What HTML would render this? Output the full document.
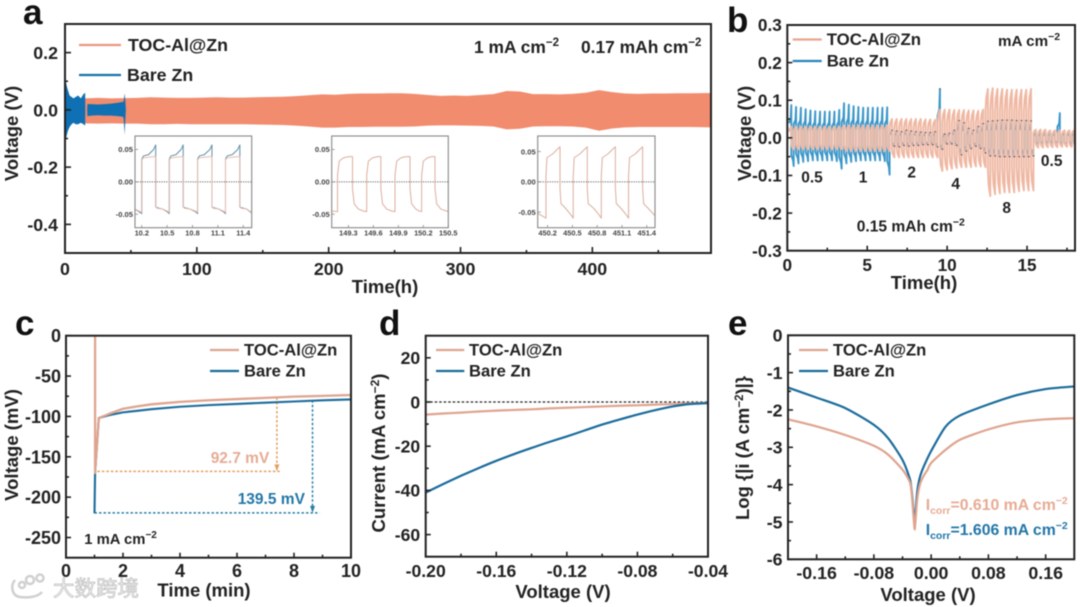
<!DOCTYPE html>
<html><head><meta charset="utf-8">
<style>
html,body{margin:0;padding:0;background:#fff}
svg{display:block;filter:blur(.5px)}
text{font-family:"Liberation Sans","Noto Sans CJK SC",sans-serif;font-weight:bold;fill:#222}
.pl{font-size:35px;fill:#111}
.leg{font-size:17px}
.ttl{font-size:18.5px}
.ann{font-size:15.5px}
</style></head>
<body>
<svg id="fig" width="1080" height="607" viewBox="0 0 1080 607" xmlns="http://www.w3.org/2000/svg">
<defs>
<clipPath id="b-clip"><rect x="787.3" y="25" width="287.7" height="225.7"/></clipPath>
</defs>
<rect width="1080" height="607" fill="#fff"/>

<g id="panel-a">
<text class="pl" x="23" y="24">a</text>
<text class="ttl" transform="translate(18,133.5) rotate(-90)" text-anchor="middle">Voltage (V)</text>
<text class="ttl" x="385" y="293" text-anchor="middle">Time(h)</text>
<line x1="79" x2="121" y1="45" y2="45" stroke="#e89a80" stroke-width="2.2"/>
<text x="128" y="51" font-size="17.8">TOC-Al@Zn</text>
<line x1="79" x2="121" y1="75" y2="75" stroke="#1a72ad" stroke-width="2.2"/>
<text x="127" y="81" font-size="17.8">Bare Zn</text>
<text x="474" y="53" font-size="17.4">1 mA cm<tspan dy="-7" font-size="11.5">−2</tspan></text>
<text x="581" y="53" font-size="17.4">0.17 mAh cm<tspan dy="-7" font-size="11.5">−2</tspan></text>
</g>

<g id="panel-b">
<text class="pl" x="727" y="32">b</text>
<text class="ttl" transform="translate(751,133.5) rotate(-90)" text-anchor="middle">Voltage (V)</text>
<text class="ttl" x="924" y="289" text-anchor="middle">Time(h)</text>
</g>

<g id="panel-c">
<text class="pl" x="15" y="335">c</text>
<text class="ttl" transform="translate(18,445) rotate(-90)" text-anchor="middle" font-size="19">Voltage (mV)</text>
<text class="ttl" x="204" y="596.5" text-anchor="middle" font-size="18.8">Time (min)</text>
</g>

<g id="panel-d">
<text class="pl" x="379" y="335">d</text>
<text class="ttl" transform="translate(385,453) rotate(-90)" text-anchor="middle">Current (mA cm<tspan dy="-6" font-size="12">−2</tspan><tspan dy="6">)</tspan></text>
<text class="ttl" x="563" y="598" text-anchor="middle">Voltage (V)</text>
</g>

<g id="panel-e">
<text class="pl" x="728" y="335">e</text>
<text class="ttl" transform="translate(749,448) rotate(-90)" text-anchor="middle" font-size="17.5">Log {|i (A cm<tspan dy="-6" font-size="11.5">−2</tspan><tspan dy="6">)|}</tspan></text>
<text class="ttl" x="928" y="601" text-anchor="middle">Voltage (V)</text>
</g>

<g id="watermark">
<g fill="none" stroke="#d0d0d0" stroke-width="2.5">
<path d="M15 580 C10 586 12 596 20 597 C28 598 38 597 42 592"/>
<circle cx="30" cy="580" r="4"/><circle cx="40" cy="578" r="3.5"/><circle cx="22" cy="585" r="3"/>
</g>
<text x="53" y="596" font-size="21.5" style="fill:#f3f3f3;stroke:#bdbdbd;stroke-width:.7;font-weight:normal">大数跨境</text>
</g>
</svg>

<script>
/* ---------- panel a data ---------- */
const aTocTime=[15,25,35,45,55,65,75,85,95,105,115,125,135,145,155,165,175,185,195,205,215,225,235,245,255,265,275,285,295,305,315,325,335,345,355,365,375,385,395,405,415,425,435,445,455,465,475,490];
const aTocUpper=[.04,.042,.04,.041,.042,.044,.043,.042,.042,.043,.044,.043,.043,.044,.045,.046,.048,.051,.054,.053,.056,.057,.057,.058,.058,.056,.052,.049,.05,.049,.052,.055,.066,.064,.055,.055,.054,.056,.06,.069,.062,.057,.056,.057,.057,.058,.058,.059];
const aTocLower=[-.047,-.048,-.047,-.048,-.048,-.05,-.05,-.049,-.05,-.05,-.05,-.05,-.05,-.051,-.052,-.053,-.055,-.058,-.062,-.062,-.06,-.06,-.059,-.059,-.059,-.058,-.055,-.054,-.054,-.055,-.056,-.058,-.068,-.066,-.058,-.057,-.057,-.058,-.062,-.073,-.065,-.061,-.06,-.06,-.06,-.06,-.06,-.061];
const aBareTime=[0,.4,1,1.8,2.5,3.5,5,6.5,8,10,12,14,15.3,15.4,16.8,17,20,25,30,35,40,44,44.5,45.2,45.8,46.2];
const aBareUpper=[.02,.105,.09,.075,.065,.05,.045,.04,.045,.05,.04,.055,.06,0,0,.02,.02,.019,.02,.022,.025,.028,.03,.058,.03,0];
const aBareLower=[-.02,-.105,-.095,-.08,-.07,-.06,-.05,-.045,-.05,-.05,-.045,-.05,-.055,0,0,-.022,-.02,-.019,-.02,-.02,-.022,-.024,-.03,-.088,-.03,0];
const aXTicks=[0,100,200,300,400];
const aXLabels=['0','100','200','300','400'];
const aXMinor=[50,150,250,350,450];
const aYTicks=[.2,0,-.2,-.4];
const aYLabels=['0.2','0.0','-0.2','-0.4'];
const aYMinor=[.1,-.1,-.3];

/* ---------- panel a inset data ---------- */
const inset1Time=[10.12,10.2,10.2,10.22,10.28,10.34,10.365,10.365,10.385,10.445,10.5,10.525,10.525,10.545,10.605,10.665,10.69,10.69,10.71,10.77,10.835,10.86,10.86,10.88,10.94,11.005,11.03,11.03,11.05,11.11,11.165,11.19,11.19,11.21,11.27,11.335,11.36,11.36,11.38,11.44,11.5];
const inset1Toc=[-.042,-.047,.034,.037,.038,.039,.039,-.039,-.041,-.042,-.045,-.047,.034,.037,.038,.039,.039,-.039,-.041,-.042,-.045,-.047,.034,.037,.038,.039,.039,-.039,-.041,-.042,-.045,-.047,.034,.037,.038,.039,.039,-.039,-.041,-.042,-.047];
const inset1Bare=[-.042,-.049,.035,.04,.042,.05,.057,-.039,-.04,-.042,-.046,-.049,.035,.04,.042,.05,.057,-.039,-.04,-.042,-.046,-.049,.035,.04,.042,.05,.057,-.039,-.04,-.042,-.046,-.049,.035,.04,.042,.05,.057,-.039,-.04,-.042,-.048];
const inset1Ticks=[10.2,10.5,10.8,11.1,11.4];
const inset1Labels=['10.2','10.5','10.8','11.1','11.4'];
const inset2Time=[149.1,149.17,149.17,149.19,149.24,149.3,149.35,149.35,149.37,149.42,149.48,149.52,149.52,149.54,149.59,149.65,149.69,149.69,149.71,149.76,149.82,149.86,149.86,149.88,149.93,149.99,150.04,150.04,150.06,150.11,150.15,150.18,150.18,150.2,150.25,150.3,150.34,150.34,150.36,150.41,150.5];
const inset2Toc=[-.045,-.046,.01,.032,.037,.039,.039,-.01,-.034,-.042,-.045,-.046,.01,.032,.037,.039,.039,-.01,-.034,-.042,-.045,-.046,.01,.032,.037,.039,.039,-.01,-.034,-.042,-.045,-.046,.01,.032,.037,.039,.039,-.01,-.034,-.042,-.046];
const inset2Ticks=[149.3,149.6,149.9,150.2,150.5];
const inset2Labels=['149.3','149.6','149.9','150.2','150.5'];
const inset3Time=[450.08,450.18,450.18,450.192,450.26,450.32,450.35,450.35,450.362,450.42,450.48,450.51,450.51,450.522,450.59,450.65,450.68,450.68,450.692,450.76,450.82,450.85,450.85,450.862,450.93,450.99,451.02,451.02,451.032,451.09,451.15,451.18,451.18,451.192,451.26,451.32,451.35,451.35,451.362,451.42,451.5];
const inset3Toc=[-.052,-.06,.01,.04,.046,.054,.058,-.01,-.036,-.044,-.054,-.06,.01,.04,.046,.054,.058,-.01,-.036,-.044,-.054,-.06,.01,.04,.046,.054,.058,-.01,-.036,-.044,-.054,-.06,.01,.04,.046,.054,.058,-.01,-.036,-.044,-.056];
const inset3Ticks=[450.2,450.5,450.8,451.1,451.4];
const inset3Labels=['450.2','450.5','450.8','451.1','451.4'];
const insetYTicks=[.05,0,-.05];
const insetYLabels=['0.05','0.00','-0.05'];

/* ---------- panel b data: one entry per charge/discharge cycle ---------- */
const bTime=[.1,.4,.7,1,1.3,1.6,1.9,2.2,2.5,2.8,3.1,3.4,3.7,4,4.3,4.6,4.9,5.2,5.5,5.8,6.1,6.4,6.7,7,7.3,7.6,7.9,8.2,8.5,8.8,9.1,9.4,9.7,10,10.3,10.6,10.9,11.2,11.5,11.8,12.1,12.4,12.7,13,13.3,13.6,13.9,14.2,14.5,14.8,15.1,15.4,15.7,16,16.3,16.6,16.9,17.2,17.5,17.8];
const bTocUp=[.03,.03,.03,.03,.03,.03,.03,.03,.03,.03,.03,.033,.033,.033,.033,.033,.033,.033,.033,.033,.033,.05,.05,.05,.05,.05,.05,.05,.049,.049,.048,.075,.075,.075,.074,.074,.074,.073,.073,.072,.075,.13,.132,.13,.13,.128,.128,.128,.128,.128,.13,.022,.022,.022,.02,.02,.02,.02,.02,.02];
const bTocLow=[-.03,-.03,-.03,-.03,-.03,-.03,-.03,-.03,-.03,-.03,-.03,-.035,-.035,-.035,-.035,-.035,-.035,-.035,-.035,-.035,-.035,-.052,-.052,-.052,-.052,-.052,-.052,-.052,-.052,-.052,-.052,-.088,-.085,-.082,-.08,-.078,-.078,-.078,-.076,-.076,-.078,-.155,-.15,-.148,-.145,-.145,-.145,-.142,-.14,-.14,-.14,-.026,-.026,-.025,-.025,-.025,-.024,-.024,-.024,-.024];
const bBareUp=[.087,.082,.08,.076,.073,.071,.07,.07,.07,.07,.074,.092,.088,.084,.082,.08,.08,.08,.08,.08,.081,.02,.018,.016,.02,.018,.016,.015,.014,.014,.016,.13,.01,.012,.02,.046,.04,.025,.02,.03,.038,.044,.045,.046,.047,.047,.047,.046,.046,.046,.045,.015,.015,.015,.014,.015,.066,.016,.015,.015];
const bBareLow=[-.075,-.068,-.064,-.062,-.06,-.06,-.06,-.06,-.06,-.062,-.082,-.068,-.064,-.062,-.06,-.06,-.06,-.06,-.06,-.062,-.098,-.022,-.024,-.02,-.022,-.02,-.02,-.018,-.018,-.018,-.024,-.03,-.016,-.016,-.02,-.045,-.035,-.028,-.022,-.028,-.04,-.048,-.048,-.05,-.05,-.05,-.05,-.05,-.05,-.05,-.048,-.018,-.016,-.015,-.015,-.015,-.018,-.02,-.018,-.018];
const bXTicks=[0,5,10,15];
const bXLabels=['0','5','10','15'];
const bXMinor=[2.5,7.5,12.5,17.5];
const bYTicks=[.3,.2,.1,0,-.1,-.2,-.3];
const bYLabels=['0.3','0.2','0.1','0.0','-0.1','-0.2','-0.3'];
const bYMinor=[.25,.15,.05,-.05,-.15,-.25];

/* ---------- panel c data ---------- */
const cTocTime=[1.02,1.02,1.15,1.5,2,2.5,3,4,5,6,7,8,9,10];
const cTocVolt=[0,-170,-102,-97,-90.5,-87.5,-85,-82,-80,-78.5,-77,-75.5,-74.5,-73.5];
const cBareTime=[1,1.02,1.15,1.5,2,2.5,3,4,5,6,7,8,9,10];
const cBareVolt=[-220,-170,-102,-98.5,-95,-93,-91,-88,-86,-84.5,-83,-81.5,-80,-79];
const cXTicks=[0,2,4,6,8,10];
const cXLabels=['0','2','4','6','8','10'];
const cXMinor=[1,3,5,7,9];
const cYTicks=[0,-50,-100,-150,-200,-250];
const cYLabels=['0','-50','-100','-150','-200','-250'];
const cYMinor=[-25,-75,-125,-175,-225];
const cTocNucleation=[7.4,7.5,-168,-76.5];
const cBareNucleation=[8.65,8.9,-219.5,-80];

/* ---------- panel d data ---------- */
const dVoltage=[-.2,-.19,-.18,-.17,-.16,-.15,-.14,-.13,-.12,-.11,-.1,-.09,-.08,-.07,-.06,-.05,-.04];
const dTocCurrent=[-5.7,-5.2,-4.8,-4.3,-3.9,-3.6,-3.3,-2.9,-2.6,-2.3,-2,-1.7,-1.5,-1.2,-.9,-.6,-.4];
const dBareCurrent=[-41,-37.1,-33.4,-29.9,-26.6,-23.6,-20.8,-18.1,-15.6,-12.9,-10.2,-7.9,-5.7,-3.7,-2,-.9,-.5];
const dXTicks=[-.2,-.16,-.12,-.08,-.04];
const dXLabels=['-0.20','-0.16','-0.12','-0.08','-0.04'];
const dXMinor=[-.18,-.14,-.1,-.06];
const dYTicks=[20,0,-20,-40,-60];
const dYLabels=['20','0','-20','-40','-60'];
const dYMinor=[10,-10,-30,-50];
const dZeroLine=[-.2,-.04];

/* ---------- panel e data ---------- */
const eTocVoltage=[-.2,-.16,-.12,-.08,-.06,-.04,-.03,-.028,-.026,-.024,-.023,-.022,-.02,-.018,-.015,-.01,-.005,0,.02,.04,.08,.12,.16,.2];
const eTocLog=[-2.25,-2.44,-2.67,-2.96,-3.2,-3.6,-3.92,-4.1,-4.5,-5,-5.2,-5,-4.5,-4.2,-3.95,-3.75,-3.6,-3.42,-3.07,-2.8,-2.52,-2.33,-2.25,-2.22];
const eBareVoltage=[-.2,-.16,-.12,-.08,-.06,-.04,-.03,-.028,-.026,-.024,-.023,-.022,-.02,-.018,-.015,-.01,0,.02,.04,.08,.12,.16,.2];
const eBareLog=[-1.4,-1.67,-1.95,-2.4,-2.76,-3.34,-3.83,-4.05,-4.4,-4.9,-5,-4.8,-4.3,-4,-3.75,-3.5,-3.1,-2.45,-2.15,-1.85,-1.6,-1.44,-1.37];
const eXTicks=[-.16,-.08,0,.08,.16];
const eXLabels=['-0.16','-0.08','0.00','0.08','0.16'];
const eXMinor=[-.12,-.04,.04,.12];
const eYTicks=[0,-1,-2,-3,-4,-5,-6];
const eYLabels=['0','-1','-2','-3','-4','-5','-6'];
const eYMinor=[-.5,-1.5,-2.5,-3.5,-4.5,-5.5];

/* ---------- helpers ---------- */
const NS='http://www.w3.org/2000/svg';
function mk(parent,tag,name,attrs){
  const el=document.createElementNS(NS,tag);
  
  
  for(const k in attrs) el.setAttribute(k,attrs[k]);
  parent.appendChild(el);
  return el;
}
function scale(d0,d1,r0,r1){return v=>r0+(v-d0)/(d1-d0)*(r1-r0);}
function linePath(xs,ys,sx,sy){return xs.map((x,i)=>(i?'L':'M')+sx(x).toFixed(2)+' '+sy(ys[i]).toFixed(2)).join('');}
function smoothPath(xs,ys,sx,sy){
  const p=xs.map((x,i)=>[sx(x),sy(ys[i])]);
  let d='M'+p[0][0].toFixed(2)+' '+p[0][1].toFixed(2);
  for(let i=0;i<p.length-1;i++){
    const a=p[Math.max(i-1,0)],b=p[i],c=p[i+1],e=p[Math.min(i+2,p.length-1)];
    const k=0.13;
    d+='C'+(b[0]+(c[0]-a[0])*k).toFixed(2)+' '+(b[1]+(c[1]-a[1])*k).toFixed(2)+' '+(c[0]-(e[0]-b[0])*k).toFixed(2)+' '+(c[1]-(e[1]-b[1])*k).toFixed(2)+' '+c[0].toFixed(2)+' '+c[1].toFixed(2);
  }
  return d;
}
function drawLine(g,name,xs,ys,sx,sy,color,w){
  return mk(g,'path',name,{d:linePath(xs,ys,sx,sy),fill:'none',stroke:color,'stroke-width':w,'stroke-linejoin':'round'});
}
function drawCurve(g,name,xs,ys,sx,sy,color,w){
  return mk(g,'path',name,{d:smoothPath(xs,ys,sx,sy),fill:'none',stroke:color,'stroke-width':w,'stroke-linejoin':'round'});
}
function drawBand(g,name,xs,up,low,sx,sy,color){
  let d=linePath(xs,up,sx,sy);
  for(let i=xs.length-1;i>=0;i--) d+='L'+sx(xs[i]).toFixed(2)+' '+sy(low[i]).toFixed(2);
  return mk(g,'path',name,{d:d+'Z',fill:color});
}
function drawAxes(g,p,c){
  const col=c.color||'#222', sw=c.sw||2, maj=c.maj||6, min=c.min||3;
  mk(g,'rect',c.id+'-plot-frame',{x:c.l,y:c.t,width:c.r-c.l,height:c.b-c.t,fill:'none',stroke:col,'stroke-width':sw});
  c.xTicks.forEach((v,i)=>{
    const x=p.sx(v);
    mk(g,'line',c.id+'-x-tick',{x1:x,x2:x,y1:c.b,y2:c.b-maj,stroke:col,'stroke-width':sw*.8});
    const t=mk(g,'text',c.id+'-x-tick-label',{x:x,y:c.xBase,'text-anchor':'middle','font-size':c.fs});
    t.style.fill=c.textColor||'#222';
    t.textContent=c.xLabels[i];
  });
  (c.xMinor||[]).forEach(v=>{
    const x=p.sx(v);
    mk(g,'line',c.id+'-x-minor-tick',{x1:x,x2:x,y1:c.b,y2:c.b-min,stroke:col,'stroke-width':sw*.8});
  });
  c.yTicks.forEach((v,i)=>{
    const y=p.sy(v);
    mk(g,'line',c.id+'-y-tick',{x1:c.l,x2:c.l+maj,y1:y,y2:y,stroke:col,'stroke-width':sw*.8});
    const t=mk(g,'text',c.id+'-y-tick-label',{x:c.l-c.yOff,y:y+c.fs*.36,'text-anchor':'end','font-size':c.fs});
    t.style.fill=c.textColor||'#222';
    t.textContent=c.yLabels[i];
  });
  (c.yMinor||[]).forEach(v=>{
    const y=p.sy(v);
    mk(g,'line',c.id+'-y-minor-tick',{x1:c.l,x2:c.l+min,y1:y,y2:y,stroke:col,'stroke-width':sw*.8});
  });
}
function legendRow(g,id,label,x1,x2,tx,y,color,fs,w){
  mk(g,'line',id+'-legend-line',{x1:x1,x2:x2,y1:y,y2:y,stroke:color,'stroke-width':w||2.2});
  const t=mk(g,'text',id+'-legend-label',{x:tx,y:y+5.5,'font-size':fs});
  t.textContent=label;
}
function note(g,name,text,x,y,fs,color,anchor){
  const t=mk(g,'text',name,{x:x,y:y,'font-size':fs,'text-anchor':anchor||'start'});
  if(color) t.style.fill=color;
  t.textContent=text;
  return t;
}
function sup(t,text,fs){
  const s=mk(t,'tspan','superscript',{dy:-6,'font-size':fs});
  s.textContent=text;
}

/* ---------- panel a ---------- */
(function(){
  const g=document.getElementById('panel-a');
  const sx=scale(0,490,65,711), sy=scale(.3,-.5,24,253);
  drawBand(g,'toc-voltage-band',aTocTime,aTocUpper,aTocLower,sx,sy,'#f18c6e');
  drawBand(g,'bare-zn-voltage-band',aBareTime,aBareUpper,aBareLower,sx,sy,'#0f70b4');
  drawAxes(g,{sx,sy},{id:'a',l:65,r:711,t:24,b:253,xTicks:aXTicks,xLabels:aXLabels,xMinor:aXMinor,yTicks:aYTicks,yLabels:aYLabels,yMinor:aYMinor,xBase:275,yOff:7,fs:17.8});
  function inset(id,x0,x1,l,r,yMax,series,ticks,labels){
    const ig=mk(g,'g',id,{});
    const isx=scale(x0,x1,l,r), isy=scale(yMax,-yMax,136,227.7);
    mk(ig,'line',id+'-zero-line',{x1:l,x2:r,y1:isy(0),y2:isy(0),stroke:'#666','stroke-width':1,'stroke-dasharray':'1.2 1.2'});
    series.forEach(s=>drawLine(ig,id+'-'+s.name,s.t,s.v,isx,isy,s.color,1));
    mk(ig,'rect',id+'-frame',{x:l,y:136,width:r-l,height:91.7,fill:'none',stroke:'#888','stroke-width':1.1});
    ticks.forEach((v,i)=>{
      const x=isx(v);
      mk(ig,'line',id+'-x-tick',{x1:x,x2:x,y1:227.7,y2:225,stroke:'#888','stroke-width':.8});
      note(ig,id+'-x-tick-label',labels[i],Math.min(x,r+2),235.5,7.4,'#444','middle');
    });
    insetYTicks.forEach((v,i)=>{
      const y=isy(v);
      mk(ig,'line',id+'-y-tick',{x1:l,x2:l+3,y1:y,y2:y,stroke:'#888','stroke-width':.8});
      note(ig,id+'-y-tick-label',insetYLabels[i],l-2,y+2.7,7.6,'#444','end');
    });
  }
  inset('inset-cycle-10h',10.12,11.5,135,251.7,.0708,[{name:'bare-trace',t:inset1Time,v:inset1Bare,color:'#5f8ea8'},{name:'toc-trace',t:inset1Time,v:inset1Toc,color:'#e6bdae'}],inset1Ticks,inset1Labels);
  inset('inset-cycle-150h',149.1,150.5,331.7,448.3,.0708,[{name:'toc-trace',t:inset2Time,v:inset2Toc,color:'#dcae9e'}],inset2Ticks,inset2Labels);
  inset('inset-cycle-450h',450.08,451.5,537.7,655,.0757,[{name:'toc-trace',t:inset3Time,v:inset3Toc,color:'#dcae9e'}],inset3Ticks,inset3Labels);
})();

/* ---------- panel b ---------- */
(function(){
  const g=document.getElementById('panel-b');
  const sx=scale(0,18,787.3,1075), sy=scale(.3,-.3,25,250.7);
  const marks=mk(g,'g','b-voltage-traces',{'clip-path':'url(#b-clip)'});
  const bareT=[],bareV=[],tocT=[],tocV=[];
  bTime.forEach((t,i)=>{
    bareT.push(t,t+.11,t+.15,t+.15,t+.26,t+.3);
    bareV.push(bBareUp[i]*.45,bBareUp[i]*.58,bBareUp[i],bBareLow[i]*.62,bBareLow[i]*.8,bBareLow[i]);
    tocT.push(t,t+.05,t+.15,t+.15,t+.2,t+.3);
    tocV.push(bTocUp[i]*.55,bTocUp[i]*.82,bTocUp[i],bTocLow[i]*.55,bTocLow[i]*.82,bTocLow[i]);
  });
  drawLine(marks,'bare-zn-rate-trace',bareT,bareV,sx,sy,'#3c96c8',1.9);
  drawLine(marks,'toc-rate-trace',tocT,tocV,sx,sy,'#efb8a3',1.9);
  bTime.forEach((t,i)=>{
    if(i<21||i>50) return;
    const x=sx(t+.15);
    mk(marks,'line','bare-zn-peak-mark',{x1:x-1,x2:x+1,y1:sy(bBareUp[i]),y2:sy(bBareUp[i]),stroke:'#7a5f66','stroke-width':1.2});
    const x2=sx(t+.3);
    mk(marks,'line','bare-zn-valley-mark',{x1:x2-1,x2:x2+1,y1:sy(bBareLow[i]),y2:sy(bBareLow[i]),stroke:'#7a5f66','stroke-width':1.2});
  });
  drawAxes(g,{sx,sy},{id:'b',l:787.3,r:1075,t:25,b:250.7,xTicks:bXTicks,xLabels:bXLabels,xMinor:bXMinor,yTicks:bYTicks,yLabels:bYLabels,yMinor:bYMinor,xBase:271,yOff:5.5,fs:17.2,maj:5});
  legendRow(g,'b-toc','TOC-Al@Zn',792.7,821.7,826.7,39.5,'#e9a58d',16.8);
  legendRow(g,'b-bare','Bare Zn',792.7,821.7,826.7,61,'#2a83b8',16.8);
  const t1=note(g,'b-rate-unit','mA cm',998,46,15.2);
  sup(t1,'−2',10.5);
  [['0.5',812,182.7],['1',863,182.5],['2',911.7,177.7],['4',955.7,189],['8',1006.7,213],['0.5',1051.7,166]].forEach(r=>{
    note(g,'b-rate-label',r[0],r[1],r[2],15.5,null,'middle');
  });
  const t2=note(g,'b-capacity','0.15 mAh cm',856.7,231.7,15.6);
  sup(t2,'−2',10.5);
})();

/* ---------- panel c ---------- */
(function(){
  const g=document.getElementById('panel-c');
  const sx=scale(0,10,66,351), sy=scale(0,-275,335.7,557.7);
  const orange='#e0a060', blue='#2a7fa8';
  const tn=cTocNucleation, bn=cBareNucleation;
  drawLine(g,'toc-overpotential-level',[1.1,tn[1]],[tn[2],tn[2]],sx,sy,orange,1.5).setAttribute('stroke-dasharray','2.5 2');
  drawLine(g,'toc-overpotential-drop',[tn[0],tn[0]],[tn[3],tn[2]+6],sx,sy,orange,1.5).setAttribute('stroke-dasharray','2.5 2');
  mk(g,'path','toc-overpotential-arrow',{d:`M${sx(tn[0])-2.5} ${sy(tn[2])-7}h5l-2.5 7z`,fill:orange});
  drawLine(g,'bare-overpotential-level',[1,bn[1]],[bn[2],bn[2]],sx,sy,blue,1.5).setAttribute('stroke-dasharray','2.5 2');
  drawLine(g,'bare-overpotential-drop',[bn[0],bn[0]],[bn[3],bn[2]+6],sx,sy,blue,1.5).setAttribute('stroke-dasharray','2.5 2');
  mk(g,'path','bare-overpotential-arrow',{d:`M${sx(bn[0])-2.5} ${sy(bn[2])-7}h5l-2.5 7z`,fill:blue});
  drawLine(g,'bare-zn-curve',cBareTime,cBareVolt,sx,sy,'#1b6c9c',2.1);
  drawLine(g,'toc-curve',cTocTime,cTocVolt,sx,sy,'#dfa48f',2.3);
  drawAxes(g,{sx,sy},{id:'c',l:66,r:351,t:335.7,b:557.7,xTicks:cXTicks,xLabels:cXLabels,xMinor:cXMinor,yTicks:cYTicks,yLabels:cYLabels,yMinor:cYMinor,xBase:577,yOff:5,fs:18,maj:5});
  legendRow(g,'c-toc','TOC-Al@Zn',210,239,244,350,'#dfa48f',16.6);
  legendRow(g,'c-bare','Bare Zn',210,239,244,371,'#1b6c9c',16.6);
  note(g,'toc-overpotential-label','92.7 mV',210.7,463,15.5,'#e7ab94');
  note(g,'bare-overpotential-label','139.5 mV',237.7,504,15.5,'#2277a8');
  const t=note(g,'c-current-density','1 mA cm',84.3,544,14.8);
  sup(t,'−2',10);
})();

/* ---------- panel d ---------- */
(function(){
  const g=document.getElementById('panel-d');
  const sx=scale(-.2,-.04,425.7,708), sy=scale(30,-70,335.7,556.7);
  drawLine(g,'zero-current-line',dZeroLine,[0,0],sx,sy,'#222',1.2).setAttribute('stroke-dasharray','2.5 2');
  drawCurve(g,'toc-curve',dVoltage,dTocCurrent,sx,sy,'#dfa48f',2.2);
  drawCurve(g,'bare-zn-curve',dVoltage,dBareCurrent,sx,sy,'#1b6c9c',2.2);
  drawAxes(g,{sx,sy},{id:'d',l:425.7,r:708,t:335.7,b:556.7,xTicks:dXTicks,xLabels:dXLabels,xMinor:dXMinor,yTicks:dYTicks,yLabels:dYLabels,yMinor:dYMinor,xBase:577,yOff:5.5,fs:17.6,maj:5});
  legendRow(g,'d-toc','TOC-Al@Zn',436,464.3,469,350,'#dfa48f',16.6);
  legendRow(g,'d-bare','Bare Zn',436,464.3,469,371,'#1b6c9c',16.6);
})();

/* ---------- panel e ---------- */
(function(){
  const g=document.getElementById('panel-e');
  const sx=scale(-.2,.2,788,1074.3), sy=scale(0,-6,335.3,559.3);
  drawCurve(g,'bare-zn-curve',eBareVoltage,eBareLog,sx,sy,'#1b6c9c',2.2);
  drawCurve(g,'toc-curve',eTocVoltage,eTocLog,sx,sy,'#dfa48f',2.2);
  drawAxes(g,{sx,sy},{id:'e',l:788,r:1074.3,t:335.3,b:559.3,xTicks:eXTicks,xLabels:eXLabels,xMinor:eXMinor,yTicks:eYTicks,yLabels:eYLabels,yMinor:eYMinor,xBase:579,yOff:5.5,fs:17.8,maj:5});
  legendRow(g,'e-toc','TOC-Al@Zn',799,828,833,350,'#dfa48f',16.6);
  legendRow(g,'e-bare','Bare Zn',799,828,833,371,'#1b6c9c',16.6);
  function icorr(name,y,val,color){
    const t=note(g,name,'I',925.7,y,15.8,color);
    const s=mk(t,'tspan',name+'-subscript',{dy:4,'font-size':10.5});
    s.textContent='corr';
    const v=mk(t,'tspan',name+'-value',{dy:-4});
    v.textContent='='+val+' mA cm';
    const e=mk(t,'tspan',name+'-exponent',{dy:-6,'font-size':10.5});
    e.textContent='−2';
  }
  icorr('toc-icorr-label',510,'0.610','#e7ab94');
  icorr('bare-icorr-label',535,'1.606','#2277a8');
})();
</script>
</body></html>
